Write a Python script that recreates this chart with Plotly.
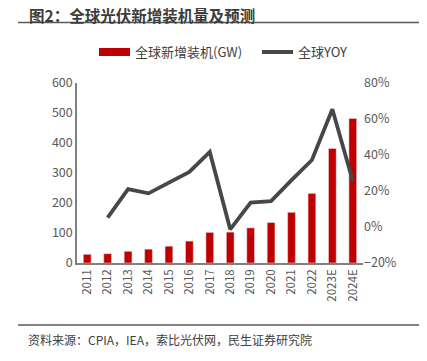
import plotly.graph_objects as go

years = ["2011", "2012", "2013", "2014", "2015", "2016", "2017", "2018",
         "2019", "2020", "2021", "2022", "2023E", "2024E"]
capacity_gw = [29, 31, 39, 46, 56, 73, 102, 103, 117, 135, 169, 232, 382, 482]
yoy_pct = [None, 5.2, 21.0, 18.7, 24.6, 30.6, 41.7, -1.3, 13.5, 14.4, 26.0, 37.2, 65.4, 25.5]

FONT = "Noto Sans CJK SC, Microsoft YaHei, sans-serif"
OFF = 8  # page body margin
W, H = 427 - OFF, 361 - OFF
L, T = 77 - OFF, 83 - OFF
R = W - (363 - OFF)
B = H - (263 - OFF)
PW, PH = W - L - R, H - T - B


def px(x):
    return (x - OFF - L) / PW


def py(y):
    return (H - B - (y - OFF)) / PH


fig = go.Figure()
fig.add_trace(go.Bar(
    x=years, y=capacity_gw, name="全球新增装机(GW)",
    marker_color="#C00000", width=0.38, yaxis="y",
))
fig.add_trace(go.Scatter(
    x=years, y=[None if v is None else v / 100 for v in yoy_pct], name="全球YOY",
    mode="lines", line=dict(color="#474747", width=3.8), yaxis="y2",
))

fig.update_layout(
    width=W, height=H,
    margin=dict(l=L, r=R, t=T, b=B, autoexpand=False),
    paper_bgcolor="white", plot_bgcolor="white",
    font=dict(family=FONT, size=12, color="#595959"),
    showlegend=False,
    xaxis=dict(
        type="category", tickangle=-90, showgrid=False, showline=True,
        linecolor="#808080", linewidth=1.5, ticks="", tickfont=dict(size=11.5, color="#595959"),
    ),
    yaxis=dict(
        range=[0, 600], dtick=100, showgrid=False, showline=True,
        linecolor="#808080", linewidth=1.5, ticks="", zeroline=False,
        tickfont=dict(size=12.5, color="#595959"),
    ),
    yaxis2=dict(
        range=[-0.2, 0.8], dtick=0.2, tickformat=".0%", overlaying="y", side="right",
        showgrid=False, showline=False, zeroline=False, ticks="",
        tickfont=dict(size=12.5, color="#595959"),
    ),
)

# Title, rules and source
fig.add_annotation(text="<b>图2：全球光伏新增装机量及预测</b>", xref="paper", yref="paper",
                   x=px(27), y=py(15), xanchor="left", yanchor="middle", showarrow=False,
                   font=dict(size=15.5, color="#3c3c3c", family=FONT))
fig.add_shape(type="line", xref="paper", yref="paper", x0=px(18), x1=px(427),
              y0=py(22.5), y1=py(22.5), line=dict(color="#5a5a5a", width=1.5))
fig.add_shape(type="line", xref="paper", yref="paper", x0=px(18), x1=px(427),
              y0=py(325), y1=py(325), line=dict(color="#5a5a5a", width=1.5))
fig.add_annotation(text="资料来源：CPIA，IEA，索比光伏网，民生证券研究院", xref="paper", yref="paper",
                   x=px(26), y=py(339), xanchor="left", yanchor="middle", showarrow=False,
                   font=dict(size=12, color="#404040", family=FONT))

# Legend
fig.add_shape(type="rect", xref="paper", yref="paper", x0=px(99), x1=px(130),
              y0=py(56), y1=py(48), fillcolor="#C00000", line=dict(width=0))
fig.add_annotation(text="全球新增装机(GW)", xref="paper", yref="paper",
                   x=px(133), y=py(52), xanchor="left", yanchor="middle", showarrow=False,
                   font=dict(size=13, color="#404040", family=FONT))
fig.add_shape(type="line", xref="paper", yref="paper", x0=px(262), x1=px(293),
              y0=py(52), y1=py(52), line=dict(color="#474747", width=4))
fig.add_annotation(text="全球YOY", xref="paper", yref="paper",
                   x=px(296), y=py(52), xanchor="left", yanchor="middle", showarrow=False,
                   font=dict(size=13, color="#404040", family=FONT))

fig.write_html("out.html")
